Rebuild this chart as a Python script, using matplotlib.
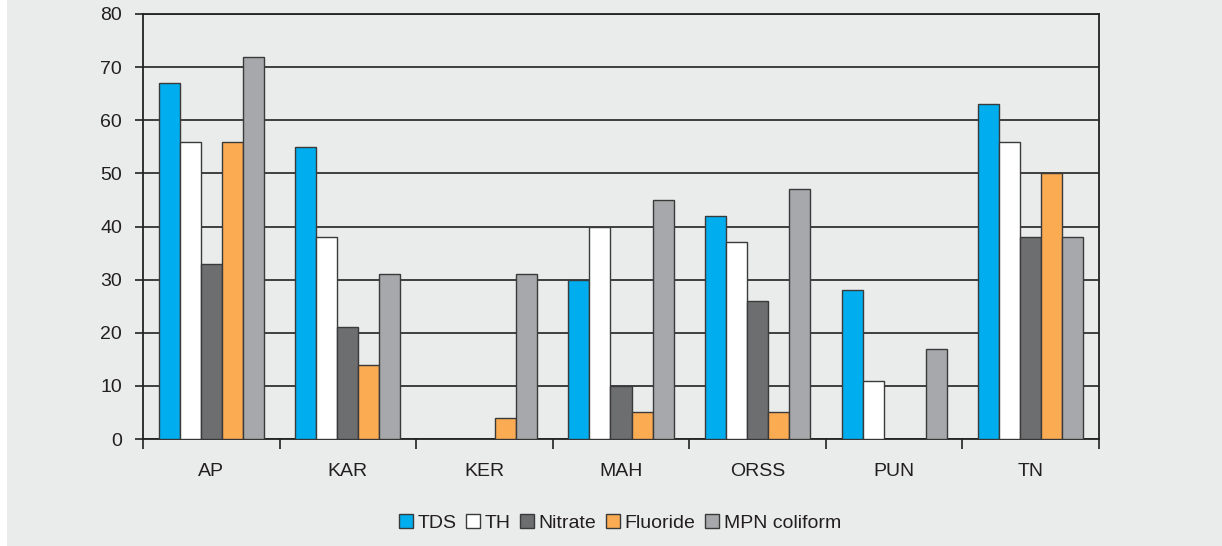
import matplotlib
matplotlib.use("Agg")
import matplotlib.pyplot as plt
from matplotlib.patches import Rectangle
import numpy as np

plt.rcParams['font.family'] = ['Liberation Sans', 'DejaVu Sans']

categories = ["AP", "KAR", "KER", "MAH", "ORSS", "PUN", "TN"]
series_names = ["TDS", "TH", "Nitrate", "Fluoride", "MPN coliform"]
tds = [67, 55, 0, 30, 42, 28, 63]
th = [56, 38, 0, 40, 37, 11, 56]
nitrate = [33, 21, 0, 10, 26, 0, 38]
fluoride = [56, 14, 4, 5, 5, 0, 50]
mpn = [72, 31, 31, 45, 47, 17, 38]
yticks = [0, 10, 20, 30, 40, 50, 60, 70, 80]

colors = ["#00AEEF", "#FFFFFF", "#6D6E70", "#FBAB52", "#A7A8AB"]
bg = "#EAECEB"

fig = plt.figure(figsize=(12.22, 5.46), dpi=100, facecolor=bg)
fig.patches.append(Rectangle((0, 0), 7/1222, 1, transform=fig.transFigure,
                             facecolor="white", edgecolor="none", zorder=-10))
ax = fig.add_axes([143/1222, 1-439/546, (1099-143)/1222, (439-14)/546])
ax.set_facecolor(bg)

x = np.arange(len(categories))
w = 0.154
data = [tds, th, nitrate, fluoride, mpn]
for i, (vals, c, name) in enumerate(zip(data, colors, series_names)):
    vals = np.asarray(vals, dtype=float)
    ec = ["#3a3a3a" if v > 0 else "none" for v in vals]
    ax.bar(x + (i - 2) * w, vals, width=w, color=c, edgecolor=ec,
           linewidth=1.0, label=name, zorder=3)

ax.set_xlim(-0.5, len(categories) - 0.5)
ax.set_ylim(0, 80)
ax.set_yticks(yticks)
ax.set_yticklabels([str(v) for v in yticks], fontsize=14, color="#231F20")
ax.yaxis.grid(True, color="#222222", linewidth=1.2, zorder=0)
ax.set_axisbelow(True)

ax.set_xticks(x)
ax.set_xticklabels(categories, fontsize=14, color="#231F20")
ax.tick_params(axis="x", length=0, pad=17)
ax.set_xticks(np.arange(-0.5, len(categories)), minor=True)
ax.tick_params(axis="x", which="minor", length=7, width=1.2, color="#222222")
ax.tick_params(axis="y", length=6, width=1.2, color="#222222", pad=9)

for s in ax.spines.values():
    s.set_color("#222222")
    s.set_linewidth(1.3)

handles, labels = ax.get_legend_handles_labels()
leg = fig.legend(handles, labels, loc="center", bbox_to_anchor=(620/1222, 1-523/546), ncol=5,
                 frameon=False, fontsize=14, handlelength=0.7, handleheight=0.7,
                 handletextpad=0.25, columnspacing=0.5)
for t in leg.get_texts():
    t.set_color("#231F20")
for p in leg.get_patches():
    p.set_edgecolor("#3a3a3a")
    p.set_linewidth(1.0)

fig.savefig("out.png", dpi=100, facecolor=bg)
